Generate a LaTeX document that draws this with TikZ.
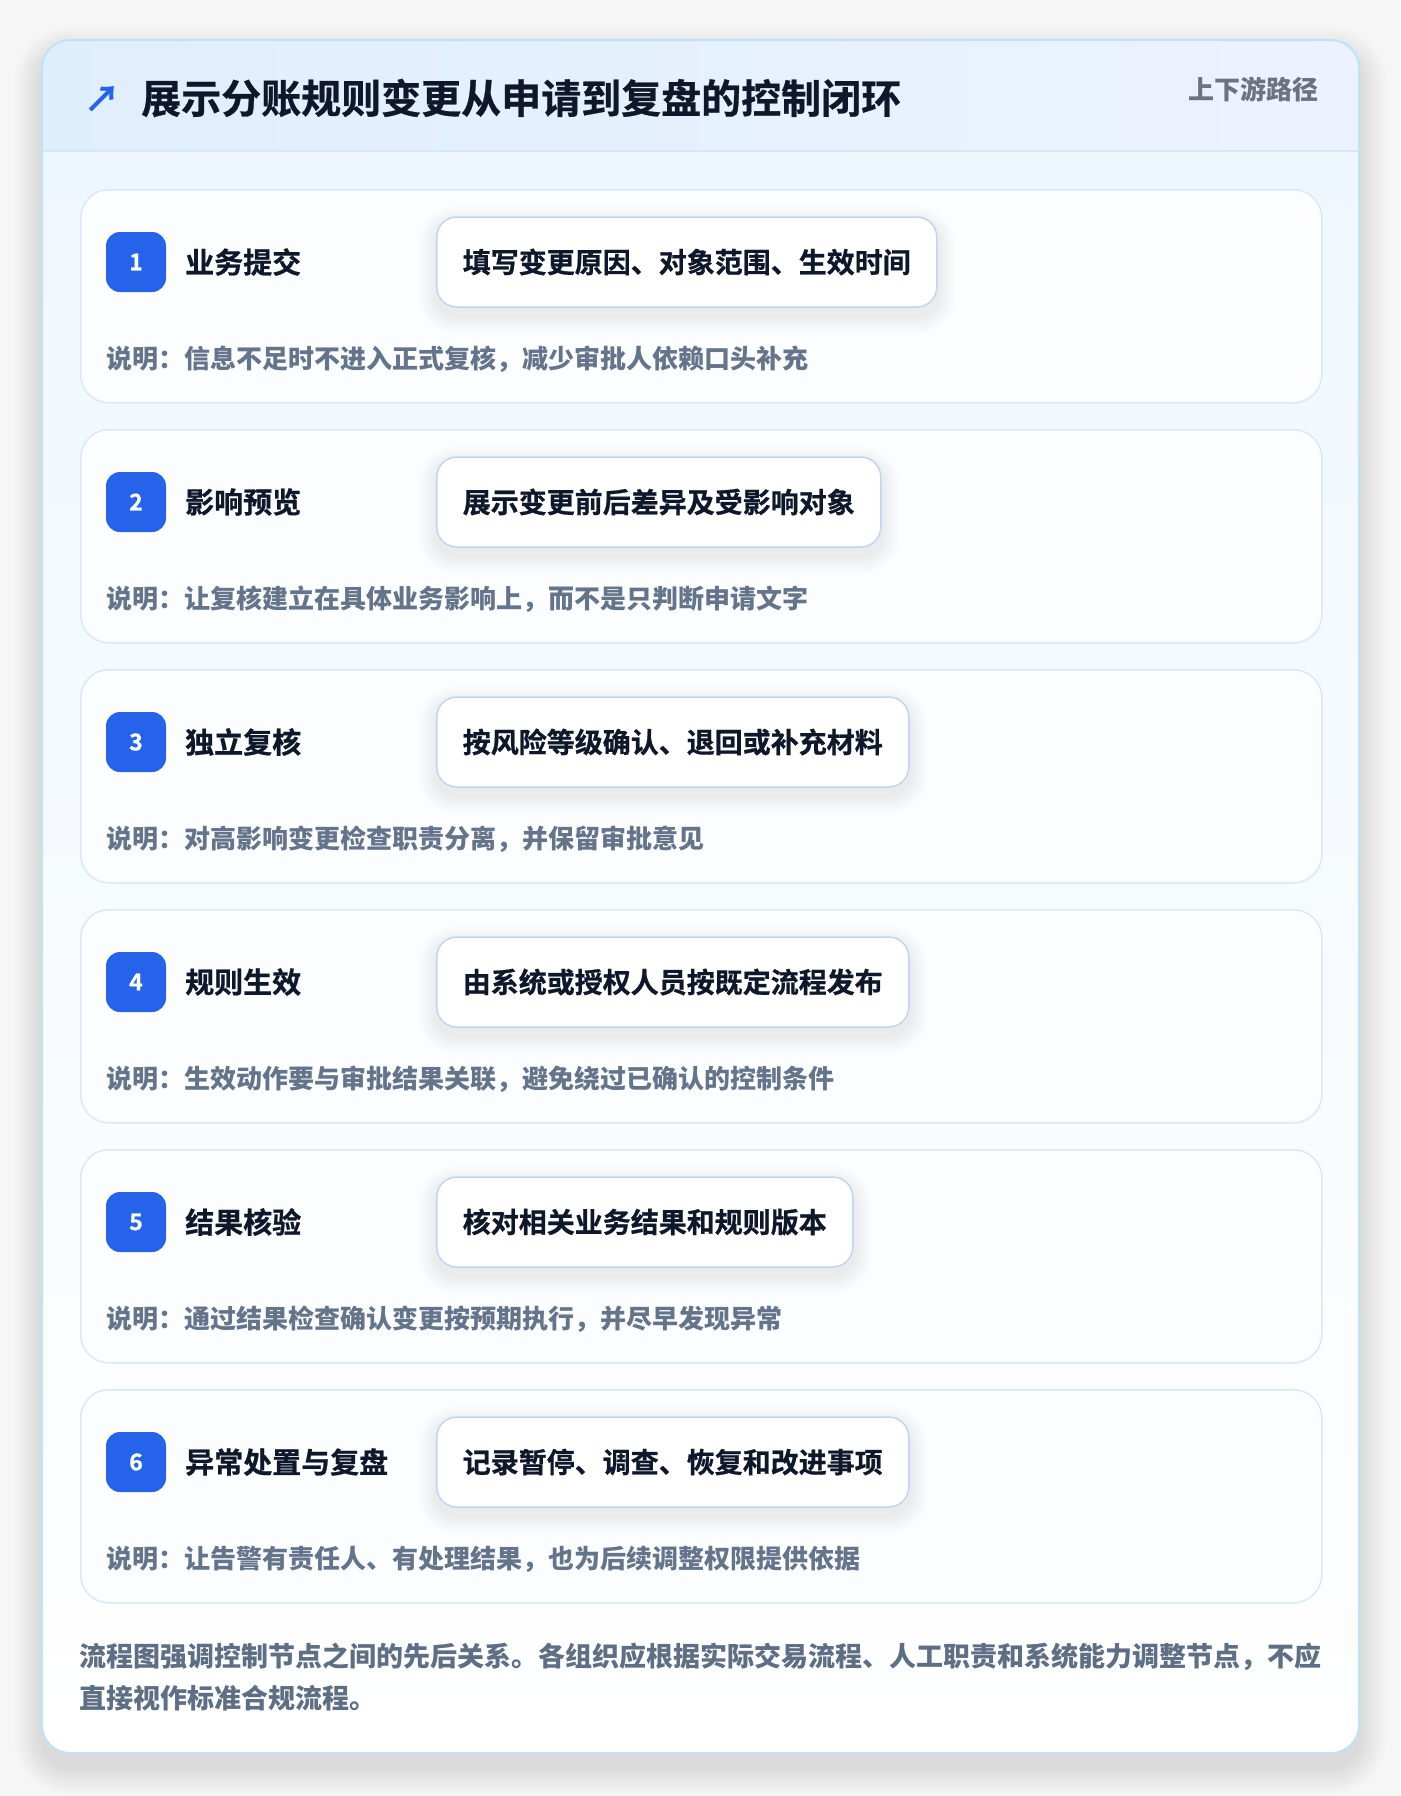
\documentclass[tikz,border=0pt]{standalone}
\usepackage{fontspec}
\setmainfont{Noto Sans CJK SC}
\newfontfamily\heavy{Noto Sans CJK SC}[UprightFont=* Bold, FakeBold=0.7]
\pgfdeclarelayer{bg}
\pgfdeclarelayer{cardl}
\pgfdeclarelayer{shad}
\pgfsetlayers{bg,cardl,shad,main}
\definecolor{pagebg}{HTML}{F6F6F7}
\definecolor{cardborder}{HTML}{BEE3F8}
\definecolor{hdrL}{HTML}{DFEEFD}
\definecolor{hdrR}{HTML}{EDF3FE}
\definecolor{hdrline}{HTML}{D7E7F8}
\definecolor{bodyT}{HTML}{EFF7FE}
\definecolor{stepfill}{HTML}{FBFDFF}
\definecolor{stepborder}{HTML}{D9E8FA}
\definecolor{badge}{HTML}{2563EB}
\definecolor{ink}{HTML}{0F172A}
\definecolor{muted}{HTML}{64748B}
\definecolor{actborder}{HTML}{BFD5F3}
\definecolor{subtle}{HTML}{6B7280}
\definecolor{foot}{HTML}{5E6E85}
\tikzset{
  x=1pt, y=-1pt,
  stepcard/.style={draw=stepborder, line width=1.5pt, fill=stepfill, rounded corners=28pt,
    minimum width=1241pt, minimum height=213pt, anchor=north west, inner sep=0pt},
  badgebox/.style={fill=badge, rounded corners=14pt, minimum width=60pt, minimum height=60pt,
    inner sep=0pt, text=white, font=\fontsize{23}{23}\selectfont\heavy},
  steptitle/.style={anchor=west, inner sep=0pt, text=ink, font=\fontsize{29}{29}\selectfont\heavy},
  actbox/.style={anchor=west, draw=actborder, line width=1.5pt, fill=white, rounded corners=20pt,
    minimum height=90pt, inner xsep=26pt, inner ysep=0pt, text=ink, font=\fontsize{28}{28}\selectfont\heavy},
  desc/.style={anchor=west, inner sep=0pt, text=muted, font=\fontsize{26}{26}\selectfont\bfseries},
  foottext/.style={anchor=west, inner sep=0pt, text=foot, font=\fontsize{27}{27}\selectfont\bfseries}
}
\begin{document}
\begin{tikzpicture}
\useasboundingbox (0,0) rectangle (1400,1796);
\begin{pgfonlayer}{bg}
  \fill[pagebg] (0,0) rectangle (1400,1796);
  \foreach \i in {1,...,28} {
    \fill[black, opacity=0.0035, rounded corners=28+\i] (42-\i,54-\i) rectangle (1359+\i,1767+\i);
  }
  \begin{scope}
    \clip[rounded corners=28] (42,40) rectangle (1359,1753);
    \shade[left color=hdrL, right color=hdrR] (42,40) rectangle (1359,151);
    \shade[top color=bodyT, bottom color=white] (42,151) rectangle (1359,1753);
  \end{scope}
  \draw[hdrline, line width=1.5pt] (43,151) -- (1358,151);
  \draw[cardborder, line width=2pt, rounded corners=28] (42,40) rectangle (1359,1753);
\end{pgfonlayer}

\node[text=badge, inner sep=0pt, font=\fontsize{36}{36}\selectfont\heavy] (icon) at (102,99) {↗};
\node[anchor=west, inner sep=0pt, text=ink, font=\fontsize{40}{40}\selectfont\heavy] (title) at (141,98) {展示分账规则变更从申请到复盘的控制闭环};
\node[anchor=east, inner sep=0pt, text=subtle, font=\fontsize{26}{26}\selectfont\bfseries] (tag) at (1319,89) {上下游路径};

\foreach \n/\t/\a/\d [count=\k from 0] in {
  1/业务提交/填写变更原因、对象范围、生效时间/说明：信息不足时不进入正式复核，减少审批人依赖口头补充,
  2/影响预览/展示变更前后差异及受影响对象/说明：让复核建立在具体业务影响上，而不是只判断申请文字,
  3/独立复核/按风险等级确认、退回或补充材料/说明：对高影响变更检查职责分离，并保留审批意见,
  4/规则生效/由系统或授权人员按既定流程发布/说明：生效动作要与审批结果关联，避免绕过已确认的控制条件,
  5/结果核验/核对相关业务结果和规则版本/说明：通过结果检查确认变更按预期执行，并尽早发现异常,
  6/异常处置与复盘/记录暂停、调查、恢复和改进事项/说明：让告警有责任人、有处理结果，也为后续调整权限提供依据} {
  \pgfmathsetmacro{\top}{189+240*\k}
  \begin{pgfonlayer}{cardl}
    \node[stepcard] (c\n) at (80,\top) {};
  \end{pgfonlayer}
  \node[badgebox] (b\n) at (136,\top+73) {\n};
  \node[steptitle] (t\n) at (185,\top+73) {\t};
  \node[actbox] (a\n) at (436,\top+73) {\a};
  \node[desc] (d\n) at (106,\top+170) {\d};
  \begin{pgfonlayer}{shad}
    \foreach \j in {1,...,18} {
      \fill[black, opacity=0.0035, rounded corners=20+\j]
        ([xshift=-\j pt, yshift=\j pt-8pt]a\n.north west) rectangle ([xshift=\j pt, yshift=-\j pt-8pt]a\n.south east);
    }
  \end{pgfonlayer}
}

\node[foottext] (f1) at (79,1657) {流程图强调控制节点之间的先后关系。各组织应根据实际交易流程、人工职责和系统能力调整节点，不应};
\node[foottext] (f2) at (79,1698) {直接视作标准合规流程。};
\end{tikzpicture}
\end{document}
